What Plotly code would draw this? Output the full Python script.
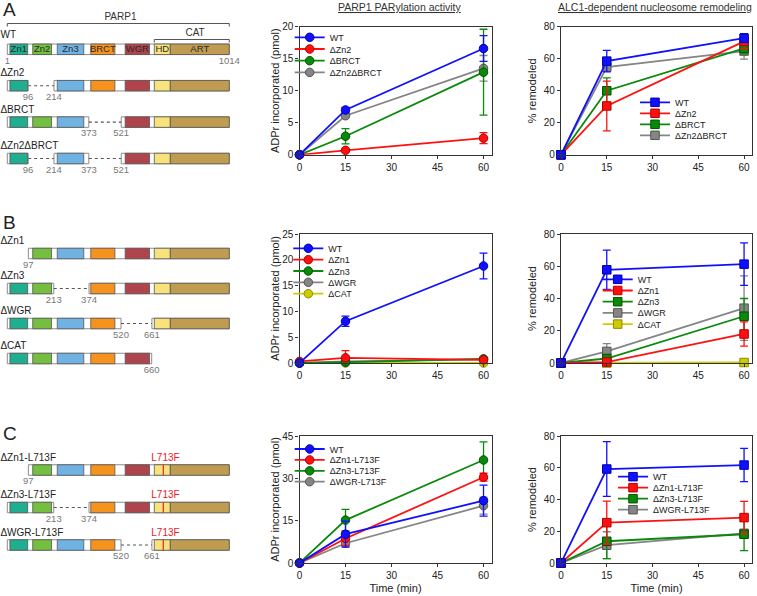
import plotly.graph_objects as go

W, H = 757, 596
FONT = "Liberation Sans, Arial, Helvetica, sans-serif"


def fx(p):
    return p / W


def fy(p):
    return 1 - p / H


# ---------------- data: time courses ----------------
TIME = [0, 15, 60]
X_TICKS = [0, 15, 30, 45, 60]

# Panel A - PARylation (pmol ADPr)
A1_NAMES = ["WT", "ΔZn2", "ΔBRCT", "ΔZn2ΔBRCT"]
A1_WT = [0, 7.0, 16.6]
A1_WT_ERR = [0, 0.4, 2.0]
A1_DZN2 = [0, 0.7, 2.6]
A1_DZN2_ERR = [0, 0.2, 0.85]
A1_DBRCT = [0, 2.9, 12.9]
A1_DBRCT_ERR = [0, 1.2, 6.7]
A1_DBOTH = [0, 6.1, 13.5]
A1_DBOTH_ERR = [0, 0.3, 2.0]

# Panel A - remodeling (%)
A2_WT = [0, 58.5, 72.8]
A2_WT_ERR = [0, 6.7, 2.8]
A2_DZN2 = [0, 30.5, 70.8]
A2_DZN2_ERR = [0, 15.5, 4.5]
A2_DBRCT = [0, 40.0, 66.5]
A2_DBRCT_ERR = [0, 8.0, 3.5]
A2_DBOTH = [0, 54.8, 64.8]
A2_DBOTH_ERR = [0, 2.0, 5.0]

# Panel B - PARylation
B_NAMES = ["WT", "ΔZn1", "ΔZn3", "ΔWGR", "ΔCAT"]
B1_WT = [0, 8.1, 18.8]
B1_WT_ERR = [0, 1.0, 2.5]
B1_DZN1 = [0.3, 1.0, 0.6]
B1_DZN1_ERR = [0, 1.4, 0.3]
B1_DZN3 = [0, 0.15, 0.8]
B1_DZN3_ERR = [0, 0.1, 0.2]
B1_DWGR = [0, 0.3, 0.7]
B1_DWGR_ERR = [0, 0.1, 0.2]
B1_DCAT = [0, 0, 0]
B1_DCAT_ERR = [0, 0, 0]

# Panel B - remodeling
B2_WT = [0, 57.8, 61.3]
B2_WT_ERR = [0, 12.2, 13.2]
B2_DZN1 = [0, 0.6, 18.0]
B2_DZN1_ERR = [0, 0.5, 7.5]
B2_DZN3 = [0, 2.8, 29.0]
B2_DZN3_ERR = [0, 1.5, 11.0]
B2_DWGR = [0, 7.2, 34.0]
B2_DWGR_ERR = [0, 4.8, 20.0]
B2_DCAT = [0, 0, 0.3]
B2_DCAT_ERR = [0, 0, 0]

# Panel C - PARylation
C_NAMES = ["WT", "ΔZn1-L713F", "ΔZn3-L713F", "ΔWGR-L713F"]
C1_WT = [0, 10.2, 22.1]
C1_WT_ERR = [0, 4.6, 5.5]
C1_DZN1 = [0, 8.7, 30.4]
C1_DZN1_ERR = [0, 2.5, 1.4]
C1_DZN3 = [0, 15.2, 36.5]
C1_DZN3_ERR = [0, 3.8, 6.4]
C1_DWGR = [0, 7.0, 20.3]
C1_DWGR_ERR = [0, 1.2, 3.0]

# Panel C - remodeling
C2_WT = [0, 59.2, 61.7]
C2_WT_ERR = [0, 17.2, 10.5]
C2_DZN1 = [0, 25.4, 28.6]
C2_DZN1_ERR = [0, 13.6, 10.2]
C2_DZN3 = [0, 13.7, 18.1]
C2_DZN3_ERR = [0, 11.0, 10.3]
C2_DWGR = [0, 11.2, 18.7]
C2_DWGR_ERR = [0, 8.5, 2.0]

# ---------------- data: domain architecture ----------------
DOMAIN_NAMES = ["Zn1", "Zn2", "Zn3", "BRCT", "WGR", "HD", "ART"]
DOMAIN_START = [13, 117, 229, 382, 539, 672, 745]
DOMAIN_END = [94, 203, 350, 492, 650, 745, 1014]
PROTEIN_LEN = 1014
CAT_START = 672

CONSTRUCTS_A = ["WT", "ΔZn2", "ΔBRCT", "ΔZn2ΔBRCT"]
SEGMENTS_A = [[(1, 1014)], [(1, 96), (214, 1014)], [(1, 373), (521, 1014)],
              [(1, 96), (214, 373), (521, 1014)]]
LABELS_A = [[1, 1014], [96, 214], [373, 521], [96, 214, 373, 521]]

CONSTRUCTS_B = ["ΔZn1", "ΔZn3", "ΔWGR", "ΔCAT"]
SEGMENTS_B = [[(97, 1014)], [(1, 213), (374, 1014)], [(1, 520), (661, 1014)], [(1, 660)]]
LABELS_B = [[97], [213, 374], [520, 661], [660]]

CONSTRUCTS_C = ["ΔZn1-L713F", "ΔZn3-L713F", "ΔWGR-L713F"]
SEGMENTS_C = [[(97, 1014)], [(1, 213), (374, 1014)], [(1, 520), (661, 1014)]]
LABELS_C = [[97], [213, 374], [520, 661]]
MUTATION_POS = 713
MUTATION_NAME = "L713F"

# ---------------- styling ----------------
DOMAIN_COLORS = ["#1fae8f", "#74bf3f", "#70b3e2", "#f6921e", "#b0444c", "#f7e27c", "#c09c50"]
PAL = {
    "blue": ("#1010ff", "#0000a8"),
    "red": ("#ff1010", "#b00000"),
    "green": ("#0a8a0a", "#005200"),
    "grey": ("#858585", "#555555"),
    "yellow": ("#cccc00", "#8c8c00"),
}

fig = go.Figure()

# ---------------- line plots ----------------
PLOTS = [
    # idx, box(px: x0,x1,y0,y1), ymax, dtick, symbol, series, legend(text x, first y, dy)
    (1, (299.5, 491.5, 26.7, 154.8), 20, 5, "circle",
     [(A1_NAMES[0], A1_WT, A1_WT_ERR, "blue"), (A1_NAMES[1], A1_DZN2, A1_DZN2_ERR, "red"),
      (A1_NAMES[2], A1_DBRCT, A1_DBRCT_ERR, "green"), (A1_NAMES[3], A1_DBOTH, A1_DBOTH_ERR, "grey")],
     (330.7, 37.3, 11.7)),
    (2, (561, 752, 26.7, 154.8), 80, 20, "square",
     [(A1_NAMES[0], A2_WT, A2_WT_ERR, "blue"), (A1_NAMES[1], A2_DZN2, A2_DZN2_ERR, "red"),
      (A1_NAMES[2], A2_DBRCT, A2_DBRCT_ERR, "green"), (A1_NAMES[3], A2_DBOTH, A2_DBOTH_ERR, "grey")],
     (676, 102.3, 11.0)),
    (3, (299.5, 491.5, 234, 363), 25, 5, "circle",
     [(B_NAMES[0], B1_WT, B1_WT_ERR, "blue"), (B_NAMES[1], B1_DZN1, B1_DZN1_ERR, "red"),
      (B_NAMES[2], B1_DZN3, B1_DZN3_ERR, "green"), (B_NAMES[3], B1_DWGR, B1_DWGR_ERR, "grey"),
      (B_NAMES[4], B1_DCAT, B1_DCAT_ERR, "yellow")],
     (329.3, 248.3, 11.35)),
    (4, (561, 752, 234, 363), 80, 20, "square",
     [(B_NAMES[0], B2_WT, B2_WT_ERR, "blue"), (B_NAMES[1], B2_DZN1, B2_DZN1_ERR, "red"),
      (B_NAMES[2], B2_DZN3, B2_DZN3_ERR, "green"), (B_NAMES[3], B2_DWGR, B2_DWGR_ERR, "grey"),
      (B_NAMES[4], B2_DCAT, B2_DCAT_ERR, "yellow")],
     (638.7, 279.3, 11.2)),
    (5, (299.5, 491.5, 436, 563), 45, 15, "circle",
     [(C_NAMES[0], C1_WT, C1_WT_ERR, "blue"), (C_NAMES[1], C1_DZN1, C1_DZN1_ERR, "red"),
      (C_NAMES[2], C1_DZN3, C1_DZN3_ERR, "green"), (C_NAMES[3], C1_DWGR, C1_DWGR_ERR, "grey")],
     (330.7, 449, 10.9)),
    (6, (561, 752, 436, 563), 80, 20, "square",
     [(C_NAMES[0], C2_WT, C2_WT_ERR, "blue"), (C_NAMES[1], C2_DZN1, C2_DZN1_ERR, "red"),
      (C_NAMES[2], C2_DZN3, C2_DZN3_ERR, "green"), (C_NAMES[3], C2_DWGR, C2_DWGR_ERR, "grey")],
     (654, 476.7, 11.0)),
]

X_MAX = 62.6
LEG_DY = 0.0
legend_layouts = {}
leg_counter = 0
axis_common = dict(showline=True, linecolor="#333", linewidth=1.2, mirror=True,
                   ticks="outside", ticklen=3, tickwidth=1.2, tickcolor="#333",
                   showgrid=False, zeroline=False, automargin=False,
                   tickfont=dict(size=10, family=FONT, color="#222"))
layout_axes = {}
for idx, (x0, x1, y0, y1), ymax, dtick, sym, series, (ltx, lty, ldy) in PLOTS:
    xa = "x" if idx == 1 else f"x{idx}"
    ya = "y" if idx == 1 else f"y{idx}"
    xkey = "xaxis" if idx == 1 else f"xaxis{idx}"
    ykey = "yaxis" if idx == 1 else f"yaxis{idx}"
    is_adpr = sym == "circle"
    layout_axes[xkey] = dict(axis_common, domain=[fx(x0), fx(x1)], range=[0, X_MAX],
                             tickvals=X_TICKS, anchor=ya,
                             title=dict(text="Time (min)" if idx >= 5 else "",
                                        font=dict(size=11, family=FONT, color="#222"), standoff=4))
    layout_axes[ykey] = dict(axis_common, domain=[fy(y1), fy(y0)], range=[0, ymax],
                             dtick=dtick, anchor=xa,
                             title=dict(text="ADPr incorporated (pmol)" if is_adpr else "% remodeled",
                                        font=dict(size=11, family=FONT, color="#222"),
                                        standoff=0 if is_adpr else 4))
    names = []
    for k, s in enumerate(series):
        leg_counter += 1
        lname = "legend" if leg_counter == 1 else f"legend{leg_counter}"
        legend_layouts[lname] = dict(
            x=fx(ltx - 41), y=fy(lty + k * ldy + LEG_DY), xanchor="left", yanchor="middle",
            bgcolor="rgba(0,0,0,0)", borderwidth=0, itemwidth=30, tracegroupgap=0,
            font=dict(size=9, family=FONT, color="#222"))
        names.append(lname)
    for k in reversed(range(len(series))):
        name, vals, err, ck = series[k]
        fill, edge = PAL[ck]
        fig.add_trace(go.Scatter(
            x=TIME, y=vals, name=name, mode="lines+markers",
            line=dict(color=fill, width=1.8),
            marker=dict(symbol=sym, size=8.5, color=fill, line=dict(color=edge, width=1)),
            error_y=dict(type="data", array=err, color=fill, thickness=1.3, width=4),
            xaxis=xa, yaxis=ya, legend=names[k], showlegend=True, cliponaxis=False,
            hoverinfo="skip"))

# ---------------- domain diagrams ----------------
RES_RANGE = [-32.3, 1063]
DIAGRAMS = [
    (7, (0, 190), 49.3, 36.4, CONSTRUCTS_A, SEGMENTS_A, LABELS_A, False),
    (8, (190, 380), 253.5, 35.0, CONSTRUCTS_B, SEGMENTS_B, LABELS_B, False),
    (9, (380, 596), 470.0, 37.5, CONSTRUCTS_C, SEGMENTS_C, LABELS_C, True),
]
BAR_PX = 10.5
for ai, (ptop, pbot), first_px, sp, cons, segs, labs, mut in DIAGRAMS:
    xa, ya = f"x{ai}", f"y{ai}"
    layout_axes[f"xaxis{ai}"] = dict(domain=[0, fx(240)], range=RES_RANGE, visible=False,
                                     anchor=ya, fixedrange=True, automargin=False)
    layout_axes[f"yaxis{ai}"] = dict(domain=[fy(pbot), fy(ptop)],
                                     range=[(pbot - first_px) / sp, (ptop - first_px) / sp],
                                     visible=False, anchor=xa, fixedrange=True, automargin=False)
    bw = BAR_PX / sp
    sy, sb, sl = [], [], []
    dy, db, dl, dc = [], [], [], []
    gx, gy = [], []
    for r, seglist in enumerate(segs):
        for (s, e) in seglist:
            sy.append(r); sb.append(s); sl.append(e - s)
            for d in range(len(DOMAIN_NAMES)):
                a, b = max(s, DOMAIN_START[d]), min(e, DOMAIN_END[d])
                if b > a:
                    dy.append(r); db.append(a); dl.append(b - a); dc.append(DOMAIN_COLORS[d])
        for j in range(len(seglist) - 1):
            gx += [seglist[j][1], seglist[j + 1][0], None]
            gy += [r, r, None]
    fig.add_trace(go.Bar(orientation="h", y=sy, x=sl, base=sb, width=bw,
                         marker=dict(color="white", line=dict(color="#8c8c8c", width=1)),
                         xaxis=xa, yaxis=ya, showlegend=False, hoverinfo="skip"))
    fig.add_trace(go.Bar(orientation="h", y=dy, x=dl, base=db, width=bw,
                         marker=dict(color=dc, line=dict(color="#555", width=0.8)),
                         xaxis=xa, yaxis=ya, showlegend=False, hoverinfo="skip"))
    if gx:
        fig.add_trace(go.Scatter(x=gx, y=gy, mode="lines",
                                 line=dict(color="#555", width=1.1, dash="dot"),
                                 xaxis=xa, yaxis=ya, showlegend=False, hoverinfo="skip"))
    name_off = [-13.5 if (ai == 7 and r == 0) else -12.0 for r in range(len(cons))]
    fig.add_trace(go.Scatter(x=[RES_RANGE[0] + 2] * len(cons),
                             y=[r + name_off[r] / sp for r in range(len(cons))],
                             text=cons, mode="text", textposition="middle right",
                             textfont=dict(size=10, family=FONT, color="#222"),
                             xaxis=xa, yaxis=ya, showlegend=False, hoverinfo="skip",
                             cliponaxis=False))
    lx, ly, lt = [], [], []
    for r, ll in enumerate(labs):
        for v in ll:
            lx.append(v); ly.append(r + 12 / sp); lt.append(str(v))
    fig.add_trace(go.Scatter(x=lx, y=ly, text=lt, mode="text", textposition="middle center",
                             textfont=dict(size=9.5, family=FONT, color="#777"),
                             xaxis=xa, yaxis=ya, showlegend=False, hoverinfo="skip",
                             cliponaxis=False))
    if mut:
        mx, my = [], []
        for r in range(len(cons)):
            mx += [MUTATION_POS, MUTATION_POS, None]
            my += [r - bw / 2, r + bw / 2, None]
        fig.add_trace(go.Scatter(x=mx, y=my, mode="lines", line=dict(color="#e8202a", width=1.2),
                                 xaxis=xa, yaxis=ya, showlegend=False, hoverinfo="skip"))
        fig.add_trace(go.Scatter(x=[MUTATION_POS + 10] * len(cons),
                                 y=[r - 12 / sp for r in range(len(cons))],
                                 text=[MUTATION_NAME] * len(cons), mode="text",
                                 textposition="middle center",
                                 textfont=dict(size=10, family=FONT, color="#e8202a"),
                                 xaxis=xa, yaxis=ya, showlegend=False, hoverinfo="skip",
                                 cliponaxis=False))
    if ai == 7:
        fig.add_trace(go.Scatter(x=[(a + b) / 2 for a, b in zip(DOMAIN_START, DOMAIN_END)],
                                 y=[0] * len(DOMAIN_NAMES), text=DOMAIN_NAMES, mode="text",
                                 textposition="middle center",
                                 textfont=dict(size=9.5, family=FONT, color="#2a2a2a"),
                                 xaxis=xa, yaxis=ya, showlegend=False, hoverinfo="skip"))
        t1, t2 = -25.8 / sp, -22.8 / sp
        c1, c2 = -9.8 / sp, -6.8 / sp
        fig.add_trace(go.Scatter(
            x=[1, 1, PROTEIN_LEN, PROTEIN_LEN, None, CAT_START, CAT_START, PROTEIN_LEN, PROTEIN_LEN],
            y=[t2, t1, t1, t2, None, c2, c1, c1, c2], mode="lines",
            line=dict(color="#555", width=1), xaxis=xa, yaxis=ya,
            showlegend=False, hoverinfo="skip"))
        fig.add_trace(go.Scatter(
            x=[(1 + PROTEIN_LEN) / 2 + 10, (CAT_START + PROTEIN_LEN) / 2 + 15],
            y=[-31.5 / sp, -16 / sp], text=["PARP1", "CAT"], mode="text",
            textposition="middle center", textfont=dict(size=10, family=FONT, color="#333"),
            xaxis=xa, yaxis=ya, showlegend=False, hoverinfo="skip", cliponaxis=False))

# ---------------- annotations ----------------
ann = []
for letter, py in [("A", 9.7), ("B", 222.7), ("C", 433.3)]:
    ann.append(dict(text=letter, x=fx(0.5), y=fy(py), xref="paper", yref="paper",
                    xanchor="left", yanchor="middle", showarrow=False,
                    font=dict(size=19, family=FONT, color="#222")))
ann.append(dict(text="<u>PARP1 PARylation activity</u>", x=fx(399), y=fy(7.0), xref="paper",
                yref="paper", xanchor="center", yanchor="middle", showarrow=False,
                font=dict(size=10.5, family=FONT, color="#333")))
ann.append(dict(text="<u>ALC1-dependent nucleosome remodeling</u>", x=fx(654.5), y=fy(7.0),
                xref="paper", yref="paper", xanchor="center", yanchor="middle", showarrow=False,
                font=dict(size=10.5, family=FONT, color="#333")))

fig.update_layout(
    width=W, height=H, margin=dict(l=0, r=0, t=0, b=0, pad=0, autoexpand=False),
    paper_bgcolor="white", plot_bgcolor="rgba(0,0,0,0)",
    font=dict(family=FONT, color="#222"),
    barmode="overlay", showlegend=True, annotations=ann,
    **layout_axes, **legend_layouts)

POST = ("document.documentElement.style.margin='0';document.body.style.margin='0';"
        "document.documentElement.style.overflow='hidden';document.body.style.overflow='hidden';"
        "var gd=document.getElementById('{plot_id}');gd.style.position='fixed';"
        "gd.style.left='0px';gd.style.top='0px';")
fig.write_html("out.html", config={"displayModeBar": False}, post_script=POST)
